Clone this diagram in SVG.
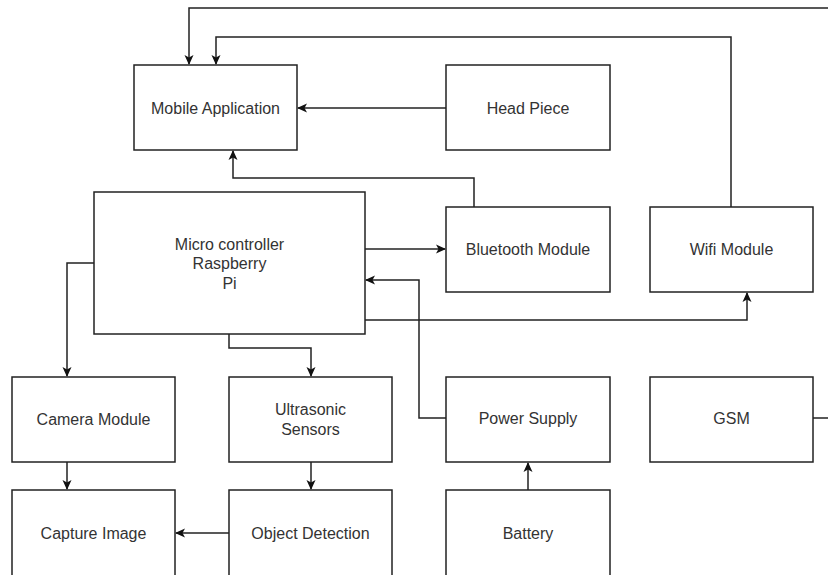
<svg xmlns="http://www.w3.org/2000/svg" width="828" height="575" viewBox="0 0 828 575">
<defs>
<style>
.box{fill:#fff;stroke:#222;stroke-width:1.5}
.lbl{font-family:"Liberation Sans",Arial,sans-serif;font-size:16px;fill:#333;text-anchor:middle}
.edge{fill:none;stroke:#222;stroke-width:1.5}
</style>
<marker id="arr" markerWidth="10" markerHeight="10" viewBox="0 0 10 10" refX="9" refY="5" orient="auto" markerUnits="userSpaceOnUse">
<path d="M0,0.5 L10,5 L0,9.5 L2.5,5 z" fill="#111"/>
</marker>
</defs>
<rect width="828" height="575" fill="#fff"/>
<g id="connectors">
<path class="edge" d="M828,8 H189 V64" marker-end="url(#arr)"/>
<path class="edge" d="M731,207 V37 H216 V64" marker-end="url(#arr)"/>
<path class="edge" d="M446,108 H298" marker-end="url(#arr)"/>
<path class="edge" d="M474,207 V178 H233 V151" marker-end="url(#arr)"/>
<path class="edge" d="M365,249 H445" marker-end="url(#arr)"/>
<path class="edge" d="M446,418 H419 V280 H366" marker-end="url(#arr)"/>
<path class="edge" d="M365,320 H747 V293" marker-end="url(#arr)"/>
<path class="edge" d="M94,263 H67 V376" marker-end="url(#arr)"/>
<path class="edge" d="M229,334 V348 H311 V376" marker-end="url(#arr)"/>
<path class="edge" d="M67,462 V489" marker-end="url(#arr)"/>
<path class="edge" d="M311,462 V489" marker-end="url(#arr)"/>
<path class="edge" d="M229,533 H176" marker-end="url(#arr)"/>
<path class="edge" d="M528,490 V463" marker-end="url(#arr)"/>
<path class="edge" d="M813,418 H828"/>
</g>
<g id="mobile-application"><rect class="box" x="134" y="65" width="163" height="85"/><text class="lbl" x="215.5" y="113.5">Mobile Application</text></g>
<g id="head-piece"><rect class="box" x="446" y="65" width="164" height="85"/><text class="lbl" x="528" y="113.5">Head Piece</text></g>
<g id="micro-controller"><rect class="box" x="94" y="192" width="271" height="142"/><text class="lbl" x="229.5" y="249.5">Micro controller</text><text class="lbl" x="229.5" y="269">Raspberry</text><text class="lbl" x="229.5" y="288.5">Pi</text></g>
<g id="bluetooth-module"><rect class="box" x="446" y="207" width="164" height="85"/><text class="lbl" x="528" y="254.5">Bluetooth Module</text></g>
<g id="wifi-module"><rect class="box" x="650" y="207" width="163" height="85"/><text class="lbl" x="731.5" y="254.5">Wifi Module</text></g>
<g id="camera-module"><rect class="box" x="12" y="377" width="163" height="85"/><text class="lbl" x="93.5" y="424.5">Camera Module</text></g>
<g id="ultrasonic-sensors"><rect class="box" x="229" y="377" width="163" height="85"/><text class="lbl" x="310.5" y="414.5">Ultrasonic</text><text class="lbl" x="310.5" y="434.5">Sensors</text></g>
<g id="power-supply"><rect class="box" x="446" y="377" width="164" height="85"/><text class="lbl" x="528" y="424">Power Supply</text></g>
<g id="gsm"><rect class="box" x="650" y="377" width="163" height="85"/><text class="lbl" x="731.5" y="424">GSM</text></g>
<g id="capture-image"><rect class="box" x="12" y="490" width="163" height="86"/><text class="lbl" x="93.5" y="538.5">Capture Image</text></g>
<g id="object-detection"><rect class="box" x="229" y="490" width="163" height="86"/><text class="lbl" x="310.5" y="538.5">Object Detection</text></g>
<g id="battery"><rect class="box" x="446" y="490" width="164" height="86"/><text class="lbl" x="528" y="538.5">Battery</text></g>
</svg>
